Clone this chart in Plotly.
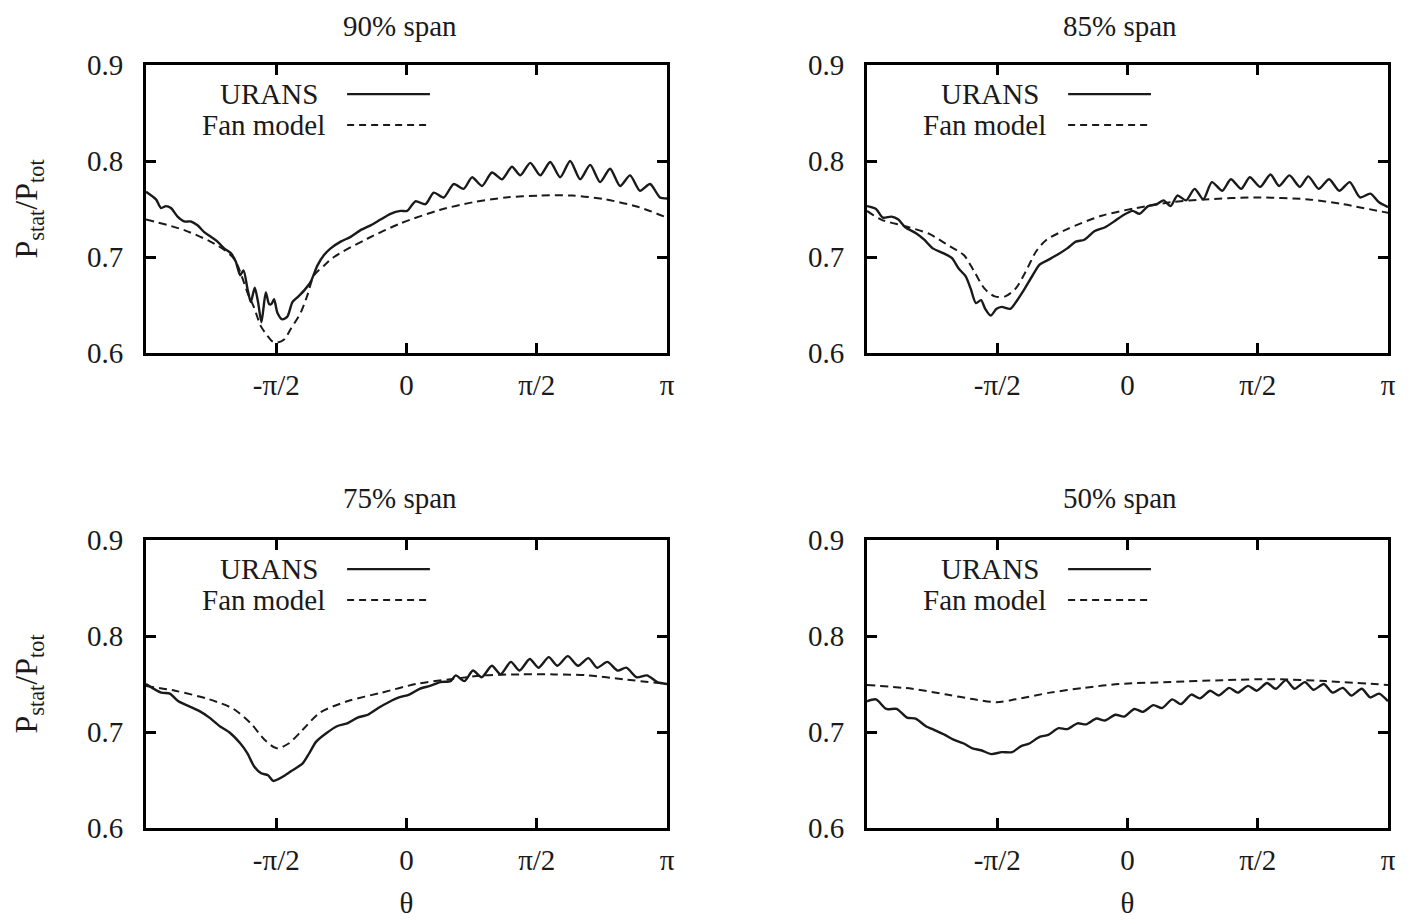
import math
import plotly.graph_objects as go

PI = math.pi

panel_titles = ["90% span", "85% span", "75% span", "50% span"]
series_names = ["URANS", "Fan model"]
x_tickvals = [-PI / 2, 0, PI / 2, PI]
x_ticktext = ["-π/2", "0", "π/2", "π"]
y_tickvals = [0.6, 0.7, 0.8, 0.9]
y_ticktext = ["0.6", "0.7", "0.8", "0.9"]
x_title = "θ"
y_title = "P<sub>stat</sub>/P<sub>tot</sub>"

# ---------------- 90% span ----------------
theta_urans_90 = [-3.1416, -3.021, -2.961, -2.901, -2.841, -2.760, -2.680, -2.600, -2.520, -2.440,
                  -2.359, -2.279, -2.199, -2.119, -2.058, -2.006, -1.966, -1.918, -1.878, -1.830,
                  -1.790, -1.749, -1.697, -1.657, -1.629, -1.597, -1.557, -1.497, -1.436, -1.376,
                  -1.316, -1.236, -1.156, -1.075, -0.995, -0.915, -0.794, -0.674, -0.554, -0.433,
                  -0.313, -0.193, -0.072, 0.008, 0.108, 0.229, 0.329, 0.449, 0.569, 0.690,
                  0.790, 0.911, 1.031, 1.152, 1.272, 1.372, 1.493, 1.613, 1.733, 1.854,
                  1.974, 2.094, 2.215, 2.335, 2.455, 2.576, 2.696, 2.816, 2.937, 3.057, 3.1416]
p_urans_90 = [0.768, 0.760, 0.751, 0.753, 0.751, 0.742, 0.737, 0.737, 0.733, 0.726,
              0.721, 0.716, 0.709, 0.704, 0.695, 0.681, 0.686, 0.667, 0.653, 0.668,
              0.653, 0.632, 0.663, 0.651, 0.651, 0.656, 0.642, 0.635, 0.638, 0.653,
              0.658, 0.665, 0.674, 0.691, 0.702, 0.709, 0.716, 0.721, 0.728, 0.733,
              0.739, 0.745, 0.748, 0.748, 0.758, 0.755, 0.767, 0.762, 0.776, 0.771,
              0.783, 0.774, 0.788, 0.781, 0.794, 0.785, 0.798, 0.785, 0.799, 0.783,
              0.800, 0.781, 0.796, 0.778, 0.792, 0.774, 0.785, 0.769, 0.776, 0.762, 0.761]
theta_fan_90 = [-3.1416, -2.680, -2.279, -2.078, -1.918, -1.837, -1.757, -1.677, -1.617, -1.557,
                -1.476, -1.396, -1.276, -1.196, -1.115, -0.995, -0.875, -0.474, -0.072, 0.4,
                0.8, 1.2, 1.6, 2.0, 2.4, 2.8, 3.1416]
p_fan_90 = [0.739, 0.728, 0.712, 0.698, 0.663, 0.647, 0.628, 0.618, 0.612, 0.611,
            0.614, 0.625, 0.642, 0.660, 0.681, 0.691, 0.700, 0.719, 0.735, 0.749,
            0.757, 0.762, 0.764, 0.764, 0.760, 0.752, 0.741]

# ---------------- 85% span ----------------
theta_urans_85 = [-3.1416, -3.033, -2.950, -2.846, -2.763, -2.680, -2.555, -2.451, -2.348, -2.223,
                  -2.119, -2.036, -1.953, -1.891, -1.828, -1.766, -1.716, -1.650, -1.579, -1.517,
                  -1.413, -1.330, -1.247, -1.143, -1.060, -0.956, -0.852, -0.727, -0.623, -0.519,
                  -0.395, -0.270, -0.145, -0.062, 0.062, 0.145, 0.249, 0.353, 0.436, 0.519,
                  0.602, 0.706, 0.810, 0.914, 1.018, 1.143, 1.247, 1.371, 1.475, 1.600,
                  1.724, 1.828, 1.953, 2.078, 2.181, 2.306, 2.431, 2.555, 2.680, 2.805,
                  2.929, 3.033, 3.1416]
p_urans_85 = [0.753, 0.750, 0.741, 0.742, 0.739, 0.731, 0.725, 0.718, 0.709, 0.704,
              0.699, 0.688, 0.680, 0.667, 0.652, 0.655, 0.646, 0.639, 0.646, 0.648,
              0.646, 0.655, 0.666, 0.681, 0.692, 0.697, 0.702, 0.709, 0.716, 0.718,
              0.727, 0.731, 0.738, 0.743, 0.748, 0.745, 0.753, 0.755, 0.759, 0.753,
              0.764, 0.759, 0.771, 0.760, 0.778, 0.769, 0.781, 0.771, 0.783, 0.773,
              0.786, 0.774, 0.785, 0.773, 0.784, 0.771, 0.781, 0.769, 0.778, 0.762,
              0.766, 0.757, 0.752]
theta_fan_85 = [-3.1416, -2.971, -2.680, -2.389, -2.140, -1.974, -1.849, -1.724, -1.600, -1.475,
                -1.350, -1.226, -1.101, -0.976, -0.727, -0.312, 0.104, 0.519, 0.935, 1.558,
                2.181, 2.597, 3.1416]
p_fan_85 = [0.748, 0.739, 0.732, 0.724, 0.711, 0.702, 0.685, 0.667, 0.659, 0.659,
            0.667, 0.685, 0.706, 0.718, 0.729, 0.743, 0.751, 0.757, 0.760, 0.762,
            0.760, 0.755, 0.746]

# ---------------- 75% span ----------------
theta_urans_75 = [-3.1416, -2.958, -2.854, -2.751, -2.626, -2.501, -2.377, -2.252, -2.127, -2.003,
                  -1.920, -1.837, -1.753, -1.670, -1.608, -1.546, -1.463, -1.359, -1.255, -1.172,
                  -1.089, -0.964, -0.839, -0.715, -0.590, -0.465, -0.341, -0.216, -0.091, 0.033,
                  0.158, 0.283, 0.407, 0.532, 0.594, 0.698, 0.802, 0.906, 1.030, 1.134,
                  1.259, 1.363, 1.487, 1.591, 1.716, 1.820, 1.945, 2.069, 2.194, 2.298,
                  2.422, 2.547, 2.651, 2.776, 2.900, 3.025, 3.1416]
p_urans_75 = [0.750, 0.741, 0.740, 0.732, 0.727, 0.722, 0.715, 0.706, 0.699, 0.688,
              0.678, 0.664, 0.657, 0.655, 0.649, 0.651, 0.655, 0.661, 0.667, 0.678,
              0.690, 0.699, 0.706, 0.709, 0.715, 0.718, 0.725, 0.731, 0.736, 0.739,
              0.745, 0.748, 0.752, 0.753, 0.759, 0.753, 0.764, 0.757, 0.769, 0.760,
              0.773, 0.764, 0.776, 0.767, 0.778, 0.769, 0.779, 0.769, 0.777, 0.767,
              0.773, 0.764, 0.767, 0.757, 0.759, 0.752, 0.750]
theta_fan_75 = [-3.1416, -2.792, -2.377, -2.086, -1.878, -1.712, -1.566, -1.421, -1.255, -1.047,
                -0.715, -0.299, 0.116, 0.532, 0.947, 1.363, 1.778, 2.194, 2.609, 3.1416]
p_fan_75 = [0.748, 0.743, 0.734, 0.724, 0.709, 0.692, 0.683, 0.688, 0.702, 0.720,
            0.732, 0.741, 0.750, 0.755, 0.759, 0.760, 0.760, 0.759, 0.755, 0.750]

# ---------------- 50% span ----------------
theta_urans_50 = [-3.1416, -3.033, -2.909, -2.784, -2.659, -2.555, -2.431, -2.327, -2.202, -2.098,
                  -1.974, -1.870, -1.766, -1.641, -1.517, -1.392, -1.288, -1.184, -1.060, -0.956,
                  -0.831, -0.727, -0.602, -0.499, -0.374, -0.270, -0.145, -0.042, 0.083, 0.187,
                  0.312, 0.416, 0.540, 0.644, 0.769, 0.873, 0.997, 1.101, 1.226, 1.330,
                  1.454, 1.558, 1.683, 1.787, 1.911, 2.015, 2.140, 2.244, 2.368, 2.472,
                  2.597, 2.701, 2.825, 2.929, 3.033, 3.1416]
p_urans_50 = [0.732, 0.734, 0.724, 0.724, 0.715, 0.714, 0.706, 0.702, 0.697, 0.692,
              0.688, 0.683, 0.681, 0.677, 0.679, 0.679, 0.685, 0.688, 0.695, 0.697,
              0.704, 0.703, 0.709, 0.708, 0.714, 0.712, 0.718, 0.716, 0.724, 0.721,
              0.728, 0.725, 0.734, 0.729, 0.739, 0.735, 0.743, 0.738, 0.746, 0.741,
              0.748, 0.743, 0.751, 0.745, 0.754, 0.745, 0.752, 0.744, 0.750, 0.741,
              0.746, 0.738, 0.745, 0.736, 0.740, 0.732]
theta_fan_50 = [-3.1416, -2.597, -2.181, -1.849, -1.579, -1.350, -0.935, -0.519, -0.104, 0.519,
                1.143, 1.766, 2.389, 3.1416]
p_fan_50 = [0.749, 0.745, 0.739, 0.734, 0.731, 0.734, 0.741, 0.746, 0.750, 0.752,
            0.754, 0.755, 0.753, 0.749]

panels = [
    (theta_urans_90, p_urans_90, theta_fan_90, p_fan_90),
    (theta_urans_85, p_urans_85, theta_fan_85, p_fan_85),
    (theta_urans_75, p_urans_75, theta_fan_75, p_fan_75),
    (theta_urans_50, p_urans_50, theta_fan_50, p_fan_50),
]

# The page body has an 8px margin, so the figure is sized to fit inside the window.
OFF = 8
W, H = 1413 - OFF, 920 - OFF
FONT = "Liberation Serif"
TXT = "#1a1a1a"
LINE = "#1a1a1a"
DASH = "8px,5px"


def px_x(px):
    return (px - OFF) / W


def px_y(py):
    return 1 - (py - OFF) / H


# panel frames in window pixels (left, right, top, bottom)
frames = [(146, 667, 65, 353), (867, 1388, 65, 353), (146, 667, 540, 828), (867, 1388, 540, 828)]
title_pos = [(400, 26), (1120, 26), (400, 498), (1120, 498)]

fig = go.Figure()
layout = dict(
    template="none",
    width=W, height=H,
    margin=dict(l=0, r=0, t=0, b=0, autoexpand=False),
    paper_bgcolor="white", plot_bgcolor="white",
    showlegend=False,
    font=dict(family=FONT, size=29, color=TXT),
)

annotations = []
shapes = []
for i, (tu, pu, tf, pf) in enumerate(panels):
    n = i + 1
    xs = "x" if n == 1 else f"x{n}"
    ys = "y" if n == 1 else f"y{n}"
    fig.add_trace(go.Scatter(x=tu, y=pu, xaxis=xs, yaxis=ys, mode="lines", name=series_names[0],
                             line=dict(color=LINE, width=2.4, shape="spline", smoothing=0.7)))
    fig.add_trace(go.Scatter(x=tf, y=pf, xaxis=xs, yaxis=ys, mode="lines", name=series_names[1],
                             line=dict(color=LINE, width=2.0, dash=DASH, shape="spline", smoothing=0.8)))
    l, r, t, b = frames[i]
    xa = dict(domain=[px_x(l), px_x(r)], range=[-PI, PI], anchor=ys, automargin=False,
              tickmode="array", tickvals=x_tickvals, ticktext=x_ticktext,
              ticks="inside", ticklen=10, tickwidth=2.5, tickcolor="black",
              showline=True, linewidth=3, linecolor="black", mirror="ticks",
              showgrid=False, zeroline=False, ticklabelstandoff=4,
              tickfont=dict(family=FONT, size=29, color=TXT))
    ya = dict(domain=[px_y(b), px_y(t)], range=[0.6, 0.9], anchor=xs, automargin=False,
              tickmode="array", tickvals=y_tickvals, ticktext=y_ticktext,
              ticks="inside", ticklen=10, tickwidth=2.5, tickcolor="black",
              showline=True, linewidth=3, linecolor="black", mirror="ticks",
              showgrid=False, zeroline=False, ticklabelstandoff=14,
              tickfont=dict(family=FONT, size=29, color=TXT))
    if n in (3, 4):
        xa["title"] = dict(text=x_title, font=dict(family=FONT, size=29, color=TXT), standoff=18)
    if n in (1, 3):
        ya["title"] = dict(text=y_title, font=dict(family=FONT, size=32, color=TXT), standoff=40)
    layout["xaxis" if n == 1 else f"xaxis{n}"] = xa
    layout["yaxis" if n == 1 else f"yaxis{n}"] = ya

    tx, ty = title_pos[i]
    annotations.append(dict(text=panel_titles[i], x=px_x(tx), y=px_y(ty), xref="paper", yref="paper",
                            xanchor="center", yanchor="middle", showarrow=False,
                            font=dict(family=FONT, size=29, color=TXT)))
    # gnuplot-style key: text right-justified, sample line to the right
    xd = f"{xs} domain"
    yd = f"{ys} domain"
    annotations.append(dict(text=series_names[0], x=0.334, y=0.899, xref=xd, yref=yd,
                            xanchor="right", yanchor="middle", showarrow=False,
                            font=dict(family=FONT, size=29, color=TXT)))
    annotations.append(dict(text=series_names[1], x=0.347, y=0.792, xref=xd, yref=yd,
                            xanchor="right", yanchor="middle", showarrow=False,
                            font=dict(family=FONT, size=29, color=TXT)))
    shapes.append(dict(type="line", xref=xd, yref=yd, x0=0.386, x1=0.545, y0=0.899, y1=0.899,
                       line=dict(color=LINE, width=2.4)))
    shapes.append(dict(type="line", xref=xd, yref=yd, x0=0.386, x1=0.545, y0=0.792, y1=0.792,
                       line=dict(color=LINE, width=2.0, dash="7px,5px")))

layout["annotations"] = annotations
layout["shapes"] = shapes
fig.update_layout(**layout)
fig.write_html("out.html")
